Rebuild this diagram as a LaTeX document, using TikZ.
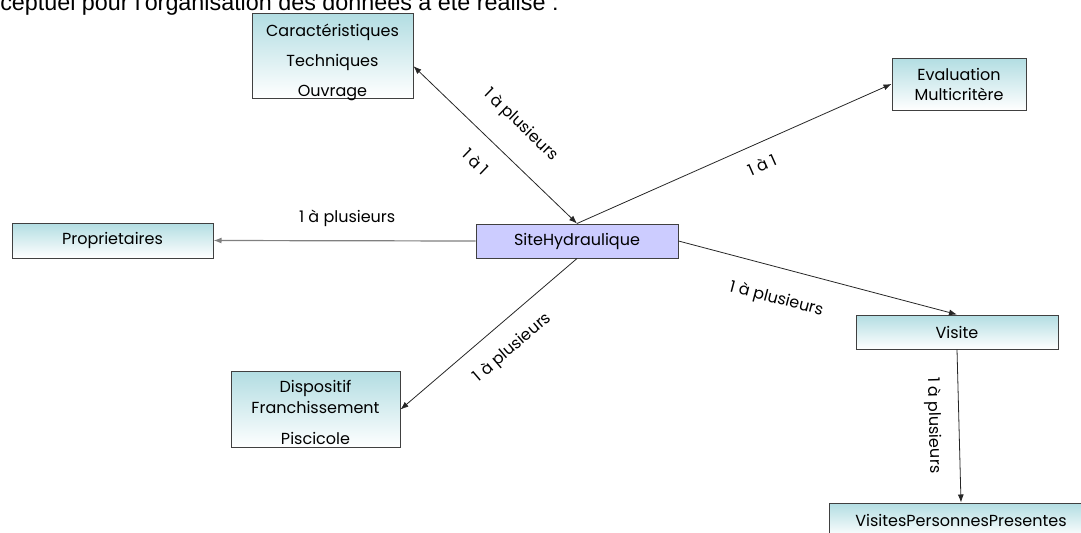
\documentclass[tikz,border=0pt]{standalone}
\usepackage{fontspec}
\setmainfont{Poppins}
\newfontfamily\headfont{Liberation Sans}
\usepackage{xcolor}
\usepackage{tikz}
\usetikzlibrary{arrows.meta}

\definecolor{boxtop}{RGB}{178,221,226}
\definecolor{sitefill}{RGB}{204,204,255}
\definecolor{boxline}{RGB}{64,64,64}

\begin{document}
\begin{tikzpicture}[x=0.75pt, y=-0.75pt, font=\fontsize{12}{14.5}\selectfont]
        % Define a style for the nodes
        \tikzstyle{entity} = [rectangle, draw=boxline, line width=0.75pt, top color=boxtop, bottom color=white, align=center, inner sep=0pt]
        \tikzstyle{arrow} = [->, >={Latex[length=6pt, width=4.5pt]}, line width=0.6pt, black!85]
        \tikzstyle{card} = [sloped, inner sep=1pt, text=black]

        \useasboundingbox (0,0) rectangle (1081,532);
        \clip (0,0) rectangle (1081,532);

        % Heading, cut at the top
        \node (intro) [anchor=base west, inner sep=0pt, font=\headfont\fontsize{17.5}{20}\selectfont] at (0,10) {ceptuel pour l'organisation des données a été réalisé :};

        % Nodes
        \node (site) [rectangle, draw=boxline, line width=0.75pt, fill=sitefill, minimum width=151.5pt, minimum height=25.5pt] at (577,241) {SiteHydraulique};
        \node (caract) [entity, minimum width=120.75pt, minimum height=63.75pt, text height=61pt, text depth=0pt] at (332.5,55.5) {Caractéristiques\\[8pt] Techniques\\[8pt] Ouvrage};
        \node (eval) [entity, minimum width=100.5pt, minimum height=39pt] at (959,84) {Evaluation\\[0.5pt] Multicritère};
        \node (prop) [entity, minimum width=150.75pt, minimum height=26.25pt] at (112.5,240.5) {Proprietaires};
        \node (visite) [entity, minimum width=151.5pt, minimum height=25.5pt] at (957,332) {Visite};
        \node (disp) [entity, minimum width=126.75pt, minimum height=57pt, text height=52.5pt, text depth=0pt] at (315.5,409.5) {Dispositif\\[1.25pt] Franchissement\\[8.75pt] Piscicole};
        \node (vpp) [entity, minimum width=198pt, minimum height=25.5pt] at (961,520) {VisitesPersonnesPresentes};

        % Edges
        \draw [arrow, <->] ([yshift=-8pt]caract.east) -- node (caractmany) [card, pos=0.52, above=16.5pt] {1 à plusieurs} node (caractone) [card, pos=0.49, below=13pt] {1 à 1} (site.north);
        \draw [arrow] (site.north) -- node (evalone) [card, pos=0.56, below=10pt] {1 à 1} (eval.west);
        \draw [arrow, gray, line width=0.9pt] (site.west) -- node (propmany) [card, pos=0.49, above=9pt] {1 à plusieurs} (prop.east);
        \draw [arrow] (site.east) -- node (visitemany) [card, pos=0.38, below=16pt] {1 à plusieurs} (visite.north);
        \draw [arrow] (site.south) -- node (dispmany) [card, pos=0.46, below=12pt] {1 à plusieurs} (disp.east);
        \draw [arrow] (visite.south) -- node (vppmany) [card, pos=0.49, below=11.5pt] {1 à plusieurs} (vpp.north);
\end{tikzpicture}
\end{document}
